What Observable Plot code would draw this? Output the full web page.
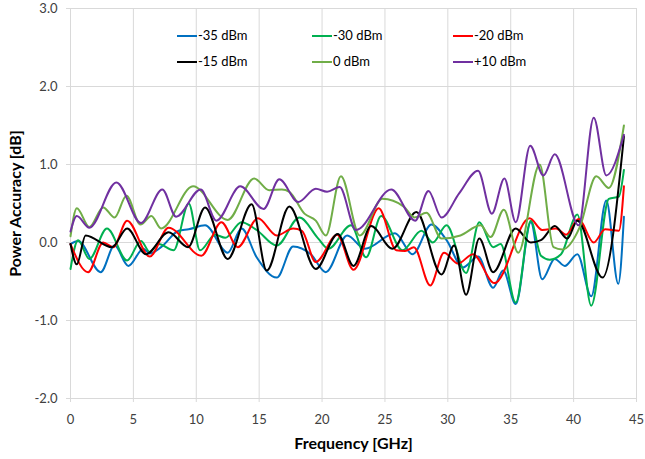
<!DOCTYPE html>
<html>
<head>
<meta charset="utf-8">
<script src="https://cdn.jsdelivr.net/npm/d3@7"></script>
<script src="https://cdn.jsdelivr.net/npm/@observablehq/plot@0.6"></script>
<style>
  body { margin: 0; background: #fff; font-family: Lato, "Liberation Sans", sans-serif; }
  #wrap { position: relative; width: 645px; height: 459px; }
  .leg { position: absolute; font-size: 13px; color: #000; display: flex; align-items: center; white-space: nowrap; line-height: 1; }
  .leg .sw { display: inline-block; width: 20px; height: 2px; margin-right: 1px; }
  #wrap svg [aria-label$="axis label"] text { font-weight: bold; font-size: 16px; fill: #000; }
</style>
</head>
<body>
<div id="wrap"></div>
<script>
// ---- data ----
const seriesNames = ["-35 dBm", "-30 dBm", "-20 dBm", "-15 dBm", "0 dBm", "+10 dBm"];
const seriesColors = ["#0070C0", "#00B050", "#FF0000", "#000000", "#70AD47", "#7030A0"];
const xTicks = [0, 5, 10, 15, 20, 25, 30, 35, 40, 45];
const yTicks = [-2, -1, 0, 1, 2, 3];

const freqM35 = [0, 0.6, 2.4, 3.5, 4.6, 5.8, 6.3, 7.2, 8.6, 9.4, 10.7, 12.5, 13.6, 14.8, 16.4, 17.7, 19.1, 20.3, 22.0, 23.4, 25.8, 27.2, 28.7, 29.9, 31.2, 32.4, 33.6, 34.4, 35.4, 36.6, 37.5, 38.5, 39.3, 40.3, 41.4, 42.6, 43.55, 44.0];
const accM35 = [-0.02, 0.02, -0.38, -0.04, -0.3, -0.08, -0.14, -0.06, 0.15, 0.17, 0.22, -0.13, 0.18, -0.19, -0.45, -0.05, -0.15, -0.38, 0.09, -0.08, 0.12, -0.15, 0.23, 0.03, -0.32, -0.18, -0.58, -0.36, -0.79, 0.26, -0.47, -0.21, -0.3, -0.15, -0.69, 0.54, -0.53, 0.33];

const freqM30 = [0, 0.6, 1.5, 2.9, 4.5, 5.6, 6.3, 7.0, 8.2, 9.4, 10.3, 11.5, 12.3, 13.6, 14.8, 16.4, 18.2, 19.7, 20.5, 22.3, 23.5, 24.7, 26.4, 27.9, 28.8, 29.9, 31.45, 32.5, 33.6, 34.2, 35.4, 36.6, 37.4, 38.1, 39.0, 40.3, 41.4, 42.8, 43.6, 44.0];
const accM30 = [-0.34, 0.03, -0.21, 0.18, -0.23, 0.02, -0.12, -0.02, -0.1, 0.5, -0.1, 0.1, 0.06, 0.26, 0.16, -0.04, 0.32, 0.05, -0.08, 0.22, -0.19, 0.34, -0.1, 0.15, 0.0, 0.22, -0.39, 0.26, -0.06, -0.02, -0.77, 0.28, -0.17, -0.22, -0.15, 0.36, -0.81, 0.56, 0.59, 0.93];

const freqM20 = [0, 1.4, 2.6, 3.4, 4.5, 6.3, 7.8, 10.4, 12.0, 13.3, 14.9, 16.4, 17.7, 18.4, 19.5, 21.2, 22.5, 24.5, 25.9, 26.6, 27.3, 28.6, 29.7, 30.8, 32.0, 33.7, 36.5, 37.5, 38.6, 39.4, 40.4, 41.6, 42.5, 43.6, 44.0];
const accM20 = [-0.02, -0.38, 0.0, -0.06, 0.28, -0.18, 0.19, -0.17, 0.26, -0.06, 0.31, 0.09, 0.18, 0.15, -0.25, 0.1, -0.35, 0.44, -0.1, -0.11, -0.06, -0.55, -0.13, -0.27, -0.15, -0.52, 0.31, 0.16, 0.18, 0.1, 0.3, 0.0, 0.17, 0.15, 0.72];

const freqM15 = [0, 0.5, 1.2, 3.3, 4.5, 6.0, 7.8, 9.35, 10.7, 12.5, 14.4, 15.6, 17.4, 19.5, 21.25, 22.5, 23.9, 25.6, 27.5, 29.5, 30.5, 31.45, 32.5, 33.6, 35.4, 36.6, 37.4, 38.5, 39.5, 40.3, 42.3, 44.0];
const accM15 = [-0.02, -0.28, 0.09, -0.06, 0.18, -0.15, 0.13, -0.06, 0.45, -0.21, 0.49, -0.36, 0.46, -0.34, 0.11, -0.3, 0.21, -0.08, 0.39, -0.41, -0.04, -0.67, 0.05, -0.38, 0.18, 0.0, 0.03, 0.21, 0.05, 0.28, -0.45, 1.36];

const freqP0 = [0, 0.5, 1.5, 2.6, 3.5, 4.45, 5.56, 6.43, 7.2, 9.74, 12.5, 14.6, 15.8, 16.8, 17.4, 18.6, 19.5, 20.3, 21.5, 23.0, 24.8, 26.5, 27.35, 28.3, 29.5, 31.0, 32.6, 33.4, 34.45, 35.6, 37.3, 38.4, 39.1, 40.5, 41.8, 42.8, 44.0];
const accP0 = [0.08, 0.44, 0.2, 0.45, 0.32, 0.6, 0.23, 0.34, 0.18, 0.72, 0.29, 0.82, 0.67, 0.68, 0.65, 0.37, 0.28, 0.09, 0.85, 0.09, 0.56, 0.46, 0.32, 0.38, 0.05, 0.09, 0.22, 0.07, 0.42, -0.13, 1.0, -0.06, -0.09, 0.2, 0.85, 0.7, 1.5];

const freqP10 = [0, 0.5, 1.5, 3.65, 5.6, 7.3, 8.4, 10.35, 11.6, 13.5, 15.35, 16.6, 18.1, 19.5, 20.4, 21.4, 22.7, 25.5, 27.4, 28.46, 29.5, 30.9, 32.4, 33.5, 34.5, 35.4, 36.55, 37.6, 38.5, 40.4, 41.6, 42.6, 44.0];
const accP10 = [0.14, 0.34, 0.19, 0.77, 0.25, 0.68, 0.33, 0.68, 0.28, 0.72, 0.43, 0.81, 0.52, 0.69, 0.65, 0.71, 0.16, 0.68, 0.28, 0.66, 0.32, 0.63, 0.92, 0.37, 0.82, 0.26, 1.24, 0.86, 1.13, 0.22, 1.6, 0.86, 1.38];

// ---- build table ----
const freqs = [freqM35, freqM30, freqM20, freqM15, freqP0, freqP10];
const accs = [accM35, accM30, accM20, accM15, accP0, accP10];
const rows = seriesNames.flatMap((name, k) => freqs[k].map((f, i) => ({ series: name, f, v: accs[k][i] })));

const chart = Plot.plot({
  width: 645,
  height: 459,
  marginLeft: 70,
  marginRight: 9,
  marginTop: 8,
  marginBottom: 61,
  style: { fontFamily: "Lato, 'Liberation Sans', sans-serif", fontSize: "13px", background: "white", overflow: "visible" },
  x: { domain: [0, 45], labelArrow: "none" },
  y: { domain: [-2, 3], labelArrow: "none" },
  color: { domain: seriesNames, range: seriesColors },
  marks: [
    Plot.gridX(xTicks, { stroke: "#d9d9d9", strokeOpacity: 1, strokeWidth: 1 }),
    Plot.gridY(yTicks, { stroke: "#d9d9d9", strokeOpacity: 1, strokeWidth: 1 }),
    Plot.axisX(xTicks, {
      tickSize: 4, tickPadding: 12, stroke: "#d9d9d9", fill: "#404040",
      label: "Frequency [GHz]", labelArrow: "none", labelAnchor: "center", labelOffset: 50
    }),
    Plot.axisY(yTicks, {
      tickSize: 4, tickPadding: 9, stroke: "#d9d9d9", fill: "#404040",
      tickFormat: d => d.toFixed(1),
      label: "Power Accuracy [dB]", labelArrow: "none", labelAnchor: "center", labelOffset: 61
    }),
    Plot.line(rows, { x: "f", y: "v", z: "series", stroke: "series", strokeWidth: 2, curve: "monotone-x" })
  ]
});

const wrap = document.getElementById("wrap");
wrap.appendChild(chart);

// strip any label arrow if this Plot build still adds one
chart.querySelectorAll('[aria-label$="axis label"] text').forEach(t => {
  t.textContent = t.textContent.replace(/\s*[\u2190-\u2193]\s*/g, "").trim();
});

// legend (HTML, inside plot area)
const legendPos = [[177, 36], [312, 36], [453, 36], [177, 62], [312, 62], [453, 62]];
seriesNames.forEach((name, i) => {
  const d = document.createElement("div");
  d.className = "leg";
  d.style.left = legendPos[i][0] + "px";
  d.style.top = (legendPos[i][1] - 7) + "px";
  d.innerHTML = `<span class="sw" style="background:${seriesColors[i]}"></span>${name}`;
  wrap.appendChild(d);
});
</script>
</body>
</html>
